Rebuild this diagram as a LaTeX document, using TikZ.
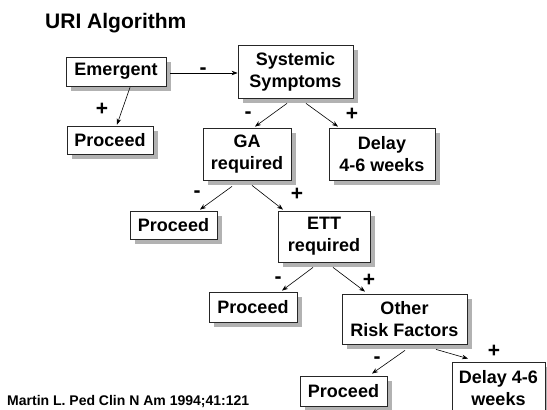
\documentclass[tikz,border=0pt]{standalone}
\usepackage{fontspec}
\setmainfont{Liberation Sans}
\usetikzlibrary{arrows.meta,shadows}
\begin{document}
\begin{tikzpicture}[x=1pt,y=-1pt,
  box/.style={draw=black!85,line width=0.8pt,fill=white,inner sep=0pt,align=center,
    font=\bfseries\fontsize{18}{22}\selectfont,
    drop shadow={shadow xshift=4.5pt,shadow yshift=-4.5pt,fill=black!30,opacity=1}},
  sign/.style={font=\bfseries\fontsize{21}{21}\selectfont,inner sep=0pt,anchor=base},
  conn/.style={line width=0.6pt,-{Stealth[length=6pt,width=4.5pt]}}]
\useasboundingbox (0,0) rectangle (547,410);
\fill[white] (0,0) rectangle (547,410);
\node[anchor=base west,inner sep=0pt,font=\bfseries\fontsize{21}{21}\selectfont] (title) at (45,28) {URI Algorithm};
\node[anchor=base west,inner sep=0pt,font=\bfseries\fontsize{14}{14}\selectfont] (cite) at (7,405) {Martin L. Ped Clin N Am 1994;41:121};
% boxes
\node[box,minimum width=100pt,minimum height=29pt] (emerg) at (116,71.5) {Emergent};
\node[box,minimum width=86pt,minimum height=28pt] (proc1) at (110,140) {Proceed};
\node[box,minimum width=115pt,minimum height=53pt] (sys) at (295.5,71.5) {Systemic\\Symptoms};
\node[box,minimum width=88pt,minimum height=52pt] (ga) at (247,154) {GA\\required};
\node[box,minimum width=106pt,minimum height=52pt] (delay1) at (382,154) {Delay\\4-6 weeks};
\node[box,minimum width=87pt,minimum height=28pt] (proc2) at (173.5,225) {Proceed};
\node[box,minimum width=92pt,minimum height=51pt] (ett) at (324,236.5) {ETT\\required};
\node[box,minimum width=88pt,minimum height=30pt] (proc3) at (253,307) {Proceed};
\node[box,minimum width=125pt,minimum height=50pt] (other) at (404.5,319) {Other\\Risk Factors};
\node[box,minimum width=87pt,minimum height=30pt] (proc4) at (343.5,391) {Proceed};
\node[box,minimum width=93pt,minimum height=52pt] (delay2) at (498.5,388) {Delay 4-6\\weeks};
% connectors
\draw[conn] ([xshift=4pt,yshift=-1.5pt]emerg.east) -- ([yshift=-1.5pt]sys.west);
\draw[conn] ([xshift=14pt,yshift=-1pt]emerg.south) -- ([xshift=7pt,yshift=1pt]proc1.north);
\draw[conn] ([xshift=-8.5pt,yshift=-5pt]sys.south) -- ([xshift=8pt,yshift=1pt]ga.north);
\draw[conn] ([xshift=10.5pt,yshift=-5pt]sys.south) -- ([xshift=-44pt,yshift=1pt]delay1.north);
\draw[conn] ([xshift=-15pt,yshift=-6pt]ga.south) -- ([xshift=26.5pt,yshift=1pt]proc2.north);
\draw[conn] ([xshift=5pt,yshift=-5pt]ga.south) -- ([xshift=-41pt,yshift=1pt]ett.north);
\draw[conn] ([xshift=-11pt,yshift=-5pt]ett.south) -- ([xshift=29pt,yshift=1pt]proc3.north);
\draw[conn] ([xshift=9pt,yshift=-5pt]ett.south) -- ([xshift=-39.5pt,yshift=2pt]other.north);
\draw[conn] ([xshift=0.5pt,yshift=-6pt]other.south) -- ([xshift=28.5pt,yshift=2pt]proc4.north);
\draw[conn] ([xshift=31.5pt,yshift=-5pt]other.south) -- ([xshift=-30.5pt,yshift=3pt]delay2.north);
% signs (placed on baseline)
\node[sign] (s1) at (203,74) {-};
\node[sign] (s2) at (102,115) {+};
\node[sign] (s3) at (248,118.5) {-};
\node[sign] (s4) at (352,120) {+};
\node[sign] (s5) at (197,197.5) {-};
\node[sign] (s6) at (297,200) {+};
\node[sign] (s7) at (278,283.5) {-};
\node[sign] (s8) at (369,286) {+};
\node[sign] (s9) at (377,363.5) {-};
\node[sign] (s10) at (494,357) {+};
\end{tikzpicture}
\end{document}
